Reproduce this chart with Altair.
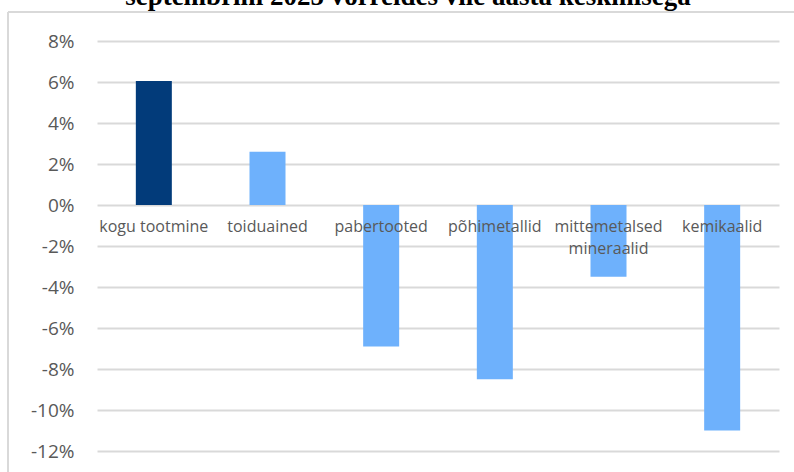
import altair as alt
import pandas as pd

# Change in production by branch (%), September vs five-year average
kategooriad = [
    "kogu tootmine",
    "toiduained",
    "pabertooted",
    "põhimetallid",
    "mittemetalsed\nmineraalid",
    "kemikaalid",
]
muutus = [6.05, 2.6, -6.9, -8.5, -3.5, -11.0]
y_ticks = [8, 6, 4, 2, 0, -2, -4, -6, -8, -10, -12]
pealkiri = "septembrini 2025 võrreldes viie aasta keskmisega"

df = pd.DataFrame({"kategooria": kategooriad, "muutus": muutus})

W, H = 682, 410
PAD_L, PAD_T = 97, 41

x_enc = alt.X(
    "kategooria:N",
    sort=kategooriad,
    scale=alt.Scale(paddingInner=0.68, paddingOuter=0.34),
    axis=None,
)

bars = alt.Chart(df).mark_bar(size=36).encode(
    x=x_enc,
    y=alt.Y(
        "muutus:Q",
        scale=alt.Scale(domain=[-12, 8], nice=False, zero=True),
        axis=alt.Axis(
            values=y_ticks,
            labelExpr="datum.value + '%'",
            title=None,
            domain=False,
            ticks=False,
            labelPadding=23,
            labelFont="Open Sans",
            labelFontSize=19,
            labelColor="#595959",
            grid=True,
            gridColor="#d9d9d9",
            gridWidth=1.8,
        ),
    ),
    color=alt.condition(
        "datum.kategooria == 'kogu tootmine'",
        alt.value("#023B7A"),
        alt.value("#6EB1FC"),
    ),
)

# category names sit just under the zero line, on top of the bars
labels = alt.Chart(df).mark_text(
    baseline="top",
    align="center",
    dy=14,
    font="Open Sans",
    fontSize=16,
    color="#595959",
    lineBreak="\n",
    lineHeight=22,
).encode(
    x=x_enc,
    y=alt.datum(0),
    text="kategooria:N",
)

# outer chart-area frame
frame_top = alt.Chart(df).mark_rule(color="#d9d9d9", strokeWidth=1.5).encode(
    x=alt.value(8 - PAD_L), x2=alt.value(794 - PAD_L), y=alt.value(12 - PAD_T)
)
frame_left = alt.Chart(df).mark_rule(color="#d9d9d9", strokeWidth=1.5).encode(
    x=alt.value(8 - PAD_L), y=alt.value(12 - PAD_T), y2=alt.value(472 - PAD_T)
)

# heading, running off the top edge of the canvas
heading = alt.Chart(pd.DataFrame({"t": [pealkiri]})).mark_text(
    font="Liberation Serif",
    fontSize=27,
    fontWeight="bold",
    color="#000000",
    align="center",
    baseline="alphabetic",
).encode(
    x=alt.value(408 - PAD_L),
    y=alt.value(5 - PAD_T),
    text="t:N",
)

chart = (
    alt.layer(bars, labels, frame_top, frame_left, heading)
    .properties(
        width=W,
        height=H,
        autosize=alt.AutoSizeParams(type="none"),
        padding={"left": PAD_L, "top": PAD_T, "right": 794 - PAD_L - W, "bottom": 472 - PAD_T - H},
    )
    .configure_view(stroke=None)
)

chart.save("out.html", embed_options={"renderer": "svg", "actions": False})
